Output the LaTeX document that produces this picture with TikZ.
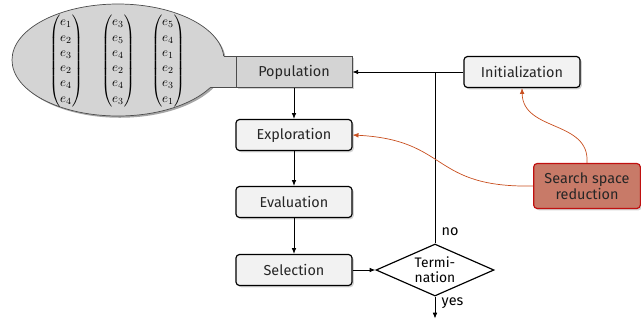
\documentclass[tikz,border=0pt]{standalone}
\usepackage{amsmath}
\usepackage{fontspec}
\setmainfont{Fira Sans}
\usetikzlibrary{shapes.geometric,arrows.meta,shadows,calc}

\definecolor{rust}{RGB}{200,78,30}
\definecolor{salmon}{RGB}{200,122,104}
\definecolor{brick}{RGB}{192,16,16}

\tikzset{
  stepbox/.style={draw, line width=1pt, rounded corners=3pt, fill=black!5,
    minimum width=3.48cm, minimum height=0.93cm, font=\fontsize{12.3}{14}\selectfont,
    text=black!85,
    drop shadow={opacity=0.35, shadow xshift=1.5pt, shadow yshift=-1.5pt}},
  popbox/.style={stepbox, rounded corners=0pt, fill=black!17, draw=black!70, line width=0.6pt},
  redbox/.style={stepbox, fill=salmon, draw=brick, align=center,
    minimum width=3.2cm, minimum height=1.35cm},
  decision/.style={diamond, draw, line width=1pt, fill=white, align=center,
    aspect=2.6, minimum width=3.54cm, minimum height=1.56cm, inner sep=0pt,
    font=\fontsize{11.8}{13}\selectfont},
  flow/.style={-{Latex[length=5pt,width=4pt]}, thick},
  hint/.style={-{Latex[length=5pt,width=4pt]}, semithick, rust}
}

\begin{document}
\begin{tikzpicture}[x=0.03cm, y=-0.03cm, font=\fontsize{12.3}{14}\selectfont]
\useasboundingbox (0,0) rectangle (641,322);

% --- population bubble
\fill[black, opacity=0.35, xshift=1.5pt, yshift=-1.5pt] (118,60) ellipse [x radius=106, y radius=56];
\fill[black!17] (118,60) ellipse [x radius=106, y radius=56];
\fill[black!17] (205,56) rectangle (236,87);
\begin{scope}
  \clip (0,0) rectangle (205,130) (205,0) rectangle (240,56) (205,87) rectangle (240,130);
  \draw[black!70, line width=0.6pt] (118,60) ellipse [x radius=106, y radius=56];
\end{scope}
\draw[black!70, line width=0.6pt] (223.7,56) -- (236,56);
\draw[black!70, line width=0.6pt] (211,87) -- (236,87);

\begin{scope}[font=\fontsize{11}{13}\selectfont]
\node (vecA) at (66,61) {$\begin{pmatrix} e_1\\ e_2\\ e_3\\ e_2\\ e_4\\ e_4 \end{pmatrix}$};
\node (vecB) at (118,61) {$\begin{pmatrix} e_3\\ e_5\\ e_4\\ e_2\\ e_4\\ e_3 \end{pmatrix}$};
\node (vecC) at (168,61) {$\begin{pmatrix} e_5\\ e_4\\ e_1\\ e_2\\ e_3\\ e_1 \end{pmatrix}$};
\end{scope}

% --- main loop
\node[popbox] (pop) at (294,72) {Population};
\node[stepbox] (expl) at (294,135) {Exploration};
\node[stepbox] (eval) at (294,202) {Evaluation};
\node[stepbox] (sel) at (294,270) {Selection};
\node[decision] (term) at (435,270) {Termi-\\nation};
\node[stepbox] (init) at (522,72) {Initialization};
\node[redbox] (ssr) at (587,186) {Search space\\reduction};

\coordinate (merge) at (term.north |- pop.east);
\coordinate (done) at ($(term.south)+(0,22)$);

\draw[flow] (init) -- (pop);
\draw[flow] (pop) -- (expl);
\draw[flow] (expl) -- (eval);
\draw[flow] (eval) -- (sel);
\draw[flow] (sel) -- (term);
\draw[thick] (term.north) -- node[pos=0.07, right, xshift=2pt] {no} (merge);
\draw[flow] (term.south) -- node[right, pos=0.3, xshift=2pt] {yes} (done);

% --- search space reduction
\draw[hint] (ssr.north) .. controls (590,120) and (523,132) .. (init.south);
\draw[hint] (ssr.west) .. controls (430,188) and (450,140) .. (expl.east);

\end{tikzpicture}
\end{document}
